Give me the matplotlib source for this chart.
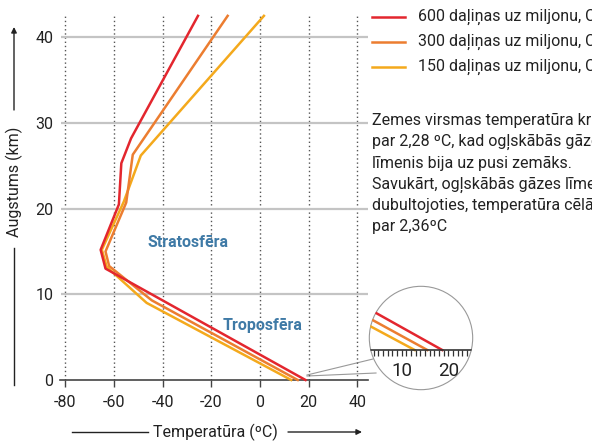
import matplotlib
matplotlib.use('Agg')
import matplotlib.pyplot as plt
from matplotlib.patches import Circle

plt.rcParams['font.family'] = ['DejaVu Sans Condensed', 'Roboto', 'DejaVu Sans']
plt.rcParams['axes.unicode_minus'] = False

# temperature (C) vs altitude (km) for three CO2 levels
red_t = [18.7, -63.5, -65.5, -58, -57, -53, -25.5]
red_h = [0, 13, 15.2, 20.5, 25.3, 28.2, 42.5]
orange_t = [15.5, -44.5, -62, -63.5, -55, -52.3, -13.3]
orange_h = [0, 9.3, 13.3, 15, 20.7, 26.3, 42.5]
yellow_t = [12.8, -46.6, -63, -65, -56, -49, 1.6]
yellow_h = [0, 9, 13.2, 15.2, 20.8, 26.2, 42.5]

labels = ['600 daļiņas uz miljonu, CO₂',
          '300 daļiņas uz miljonu, CO₂',
          '150 daļiņas uz miljonu, CO₂']
xticks = [-80, -60, -40, -20, 0, 20, 40]
yticks = [0, 10, 20, 30, 40]
inset_ticks = list(range(3, 26))

RED = '#e3262e'
ORANGE = '#ec7d30'
YELLOW = '#f4a91c'
TXT = '#222222'
BLUE = '#3f7aa6'
W, H = 592, 442
FS = 11.5

series = [(yellow_t, yellow_h, YELLOW), (orange_t, orange_h, ORANGE),
          (red_t, red_h, RED)]

fig = plt.figure(figsize=(W / 100, H / 100), dpi=100)

# overlay axes in pixel coordinates for decorations
ov = fig.add_axes([0, 0, 1, 1])
ov.set_xlim(0, W)
ov.set_ylim(H, 0)
ov.axis('off')

#%% main chart
ax = fig.add_axes([60.5 / W, (H - 380) / H, 307.8 / W, 365 / H])
ax.set_xlim(-82, 44.5)
ax.set_ylim(0, 42.6)
for t in xticks:
    ax.axvline(t, color='#555555', ls=(0, (1, 2)), lw=1, zorder=1)
for h in yticks[1:]:
    ax.axhline(h, color='#c4c4c4', lw=1.6, zorder=1)
for t, h, c in series:
    ax.plot(t, h, color=c, lw=1.8, clip_on=False, zorder=3)

for s in ['top', 'right', 'left']:
    ax.spines[s].set_visible(False)
ax.spines['bottom'].set_color('#444444')
ax.spines['bottom'].set_linewidth(1.2)
ax.set_xticks(xticks)
ax.set_yticks(yticks)
ax.tick_params(axis='x', length=5, width=1, color='#444444', pad=6,
               labelsize=FS, labelcolor=TXT)
ax.tick_params(axis='y', length=0, pad=5, labelsize=FS, labelcolor=TXT)
ax.patch.set_alpha(0)

ax.text(-29.6, 16, 'Stratosfēra', color=BLUE, fontsize=FS,
        fontweight='bold', ha='center', va='center')
ax.text(1.2, 6.4, 'Troposfēra', color=BLUE, fontsize=FS,
        fontweight='bold', ha='center', va='center')

# axis titles with arrows
ov.text(14, 182, 'Augstums (km)', rotation=90, ha='center', va='center',
        fontsize=FS, color=TXT)
ov.annotate('', xy=(14, 27), xytext=(14, 110),
            arrowprops=dict(arrowstyle='-|>', color='#222', lw=1,
                            mutation_scale=8, shrinkA=0, shrinkB=0))
ov.plot([14, 14], [248, 385], color='#222', lw=1)
ov.text(215, 432, 'Temperatūra (ºC)', ha='center', va='center',
        fontsize=FS, color=TXT)
ov.plot([72, 148], [432, 432], color='#222', lw=1)
ov.annotate('', xy=(362, 432), xytext=(288, 432),
            arrowprops=dict(arrowstyle='-|>', color='#222', lw=1,
                            mutation_scale=8, shrinkA=0, shrinkB=0))

# legend
for i, (lab, c) in enumerate(zip(labels, [RED, ORANGE, YELLOW])):
    y = 17 + 25 * i
    ov.plot([372, 405], [y, y], color=c, lw=1.8)
    ov.text(418, y, lab, va='center', ha='left', fontsize=FS, color=TXT)

note = ['Zemes virsmas temperatūra kristu',
        'par 2,28 ºC, kad ogļskābās gāzes',
        'līmenis bija uz pusi zemāks.',
        'Savukārt, ogļskābās gāzes līmenim',
        'dubultojoties, temperatūra cēlās',
        'par 2,36ºC']
for i, line in enumerate(note):
    ov.text(372, 121 + 21.2 * i, line, va='center', ha='left',
            fontsize=FS, color=TXT)

#%% magnified inset near the surface
ov.plot([307, 373], [375, 359], color='#999999', lw=0.8)
ov.plot([307, 376], [376, 373], color='#999999', lw=0.8)

ins = fig.add_axes([369 / W, (H - 390) / H, 104 / W, 104 / H])
ins.set_xlim(3.0, 25.27)
ins.set_ylim(-2.42, 3.88)
ins.axis('off')
clip = Circle((0.5, 0.5), 0.5, transform=ins.transAxes, facecolor='white',
              edgecolor='none')
ins.add_patch(clip)
for t, h, c in series:
    ln, = ins.plot(t, h, color=c, lw=1.8)
    ln.set_clip_path(clip)
ln = ins.hlines(0, 2, 27, color='#333333', lw=1.2)
ln.set_clip_path(clip)
ln = ins.vlines(inset_ticks, -0.38, 0, color='#333333', lw=0.9)
ln.set_clip_path(clip)
for v in [10, 20]:
    ins.text(v, -1.25, str(v), ha='center', va='center', fontsize=13.5,
             color=TXT)
ins.add_patch(Circle((0.5, 0.5), 0.497, transform=ins.transAxes,
                     facecolor='none', edgecolor='#999999', lw=0.8,
                     clip_on=False))

fig.savefig('out.png', dpi=100)
